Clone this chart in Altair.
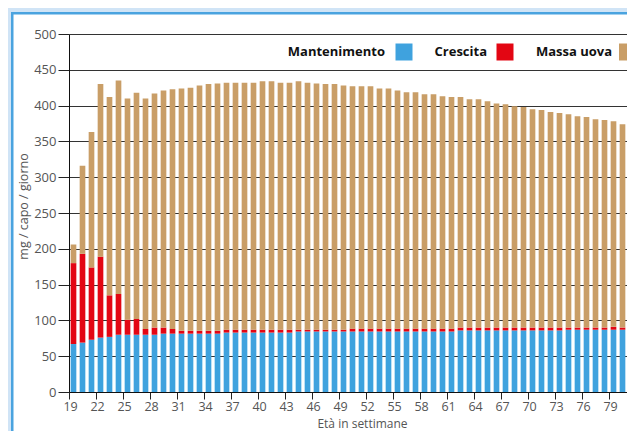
import altair as alt
import pandas as pd

weeks = list(range(19, 81))

mantenimento = [67, 69, 73, 76, 77, 80, 80, 80, 80, 80, 81.5, 81.5,
                81.5, 81.5, 81.5, 81.5, 81.5,
                83, 83, 83, 83, 83, 83, 83, 83,
                84.5, 84.5, 84.5, 84.5, 84.5, 84.5, 84.5, 84.5, 84.5,
                84.5, 84.5, 84.5, 84.5, 84.5, 84.5, 84.5, 84.5, 84.5,
                86, 86, 86, 86, 86, 86, 86, 86, 86, 86, 86, 86,
                87, 87, 87, 87, 87, 87, 87]

crescita = [113, 124, 101, 113, 58, 57, 21, 22, 8, 10, 8.5, 6.5,
            4, 4, 4, 4, 4,
            4, 4, 4, 4, 4, 4, 4, 4,
            2.5, 2.5, 2.5, 2.5, 2.5, 2.5,
            4, 4, 4, 4, 4, 4, 4, 4, 4, 4, 4, 4,
            4, 4, 4, 4, 4, 4, 4, 4, 4, 4, 4, 4,
            3, 3, 3, 3, 3, 4, 3]

massa_uova = [26, 123, 189, 241, 277, 298, 309, 316, 322, 327, 331, 335,
              338.5, 339.5, 342.5, 344.5, 345.5,
              345, 345, 345, 345, 347, 347, 345, 345,
              347, 345, 344, 343, 343, 341,
              338.5, 338.5, 338.5, 335.5, 335.5, 332.5, 330, 330, 327.5, 327.5, 324.5, 323.5,
              322, 319, 319, 316, 313, 312, 309, 308, 305, 304, 301, 299.5,
              298, 295, 294, 291, 290, 287, 284]

series_names = ["Mantenimento", "Crescita", "Massa uova"]
series_colors = ["#3fa2de", "#e30613", "#c99e67"]
y_ticks = list(range(0, 501, 50))
x_ticks = weeks[::3]

rows = []
for i, w in enumerate(weeks):
    for k, (name, vals) in enumerate(zip(series_names, [mantenimento, crescita, massa_uova])):
        rows.append({"week": w, "serie": name, "valore": vals[i], "ordine": k})
df = pd.DataFrame(rows)

FONT = "Open Sans"
W, H = 558, 358
PAD = {"left": 61, "top": 26, "right": 0, "bottom": 39}
BOTTOM = H + PAD["bottom"]

bars = alt.Chart(df).mark_bar().encode(
    x=alt.X("week:O",
            scale=alt.Scale(paddingInner=0.37, paddingOuter=0.185),
            axis=alt.Axis(values=x_ticks, labelAngle=0, bandPosition=0,
                          tickOffset=-1.7, labelOffset=-1.7,
                          tickSize=7, tickColor="#222", domainColor="#111",
                          labelColor="#555", labelFontSize=12.5, labelFont=FONT,
                          labelPadding=1, grid=False,
                          title="Età in settimane", titleFont=FONT,
                          titleFontSize=12, titleFontWeight="normal",
                          titleColor="#555", titleX=293, titleY=38,
                          titleAnchor="middle", titleAlign="center",
                          titleBaseline="bottom")),
    y=alt.Y("valore:Q", stack="zero",
            scale=alt.Scale(domain=[0, 500], nice=False),
            axis=alt.Axis(values=y_ticks, tickSize=11, tickColor="#222",
                          domainColor="#111", gridColor="#333", gridWidth=1,
                          labelColor="#555", labelFontSize=13, labelFont=FONT,
                          labelPadding=2,
                          title="mg / capo / giorno", titleFont=FONT,
                          titleFontSize=12.5, titleFontWeight="normal",
                          titleColor="#555", titleX=-46, titleY=172,
                          titleAngle=-90, titleAlign="center",
                          titleBaseline="middle")),
    color=alt.Color("serie:N",
                    scale=alt.Scale(domain=series_names, range=series_colors),
                    legend=None),
    order=alt.Order("ordine:Q", sort="ascending"),
)

one = pd.DataFrame({"k": [0]})

# light-blue page band (left and top) and blue frame line, kept inside the chart bounds
band_left = alt.Chart(one).mark_rect(color="#d0e4f6").encode(
    x=alt.value(-PAD["left"]), x2=alt.value(-PAD["left"] + 3),
    y=alt.value(-PAD["top"]), y2=alt.value(BOTTOM))
band_top = alt.Chart(one).mark_rect(color="#d0e4f6").encode(
    x=alt.value(-PAD["left"]), x2=alt.value(W),
    y=alt.value(-PAD["top"]), y2=alt.value(-PAD["top"] + 4))
line_left = alt.Chart(one).mark_rect(color="#4aa3df").encode(
    x=alt.value(-PAD["left"] + 3), x2=alt.value(-PAD["left"] + 5.5),
    y=alt.value(-PAD["top"] + 4), y2=alt.value(BOTTOM))
line_top = alt.Chart(one).mark_rect(color="#4aa3df").encode(
    x=alt.value(-PAD["left"] + 3), x2=alt.value(W),
    y=alt.value(-PAD["top"] + 4), y2=alt.value(-PAD["top"] + 6.5))

legend_text_right = [316, 418, 543]
legend_swatch_left = [326.5, 427.5, 550]
legend_layers = []
for name, col, tx, sx in zip(series_names, series_colors, legend_text_right, legend_swatch_left):
    legend_layers.append(
        alt.Chart(one).mark_text(align="right", baseline="middle", font=FONT,
                                 fontSize=13, fontWeight="bold", color="#111",
                                 text=name).encode(x=alt.value(tx), y=alt.value(18)))
    legend_layers.append(
        alt.Chart(one).mark_rect(color=col).encode(
            x=alt.value(sx), x2=alt.value(min(sx + 17, W)),
            y=alt.value(9.5), y2=alt.value(26.5)))

chart = alt.layer(bars, *legend_layers, band_left, band_top, line_left, line_top).properties(
    width=W, height=H,
    autosize=alt.AutoSizeParams(type="none"),
    padding=PAD,
    background="white",
).configure_view(stroke=None)

chart.save("out.html", embed_options={"renderer": "svg", "actions": False})
